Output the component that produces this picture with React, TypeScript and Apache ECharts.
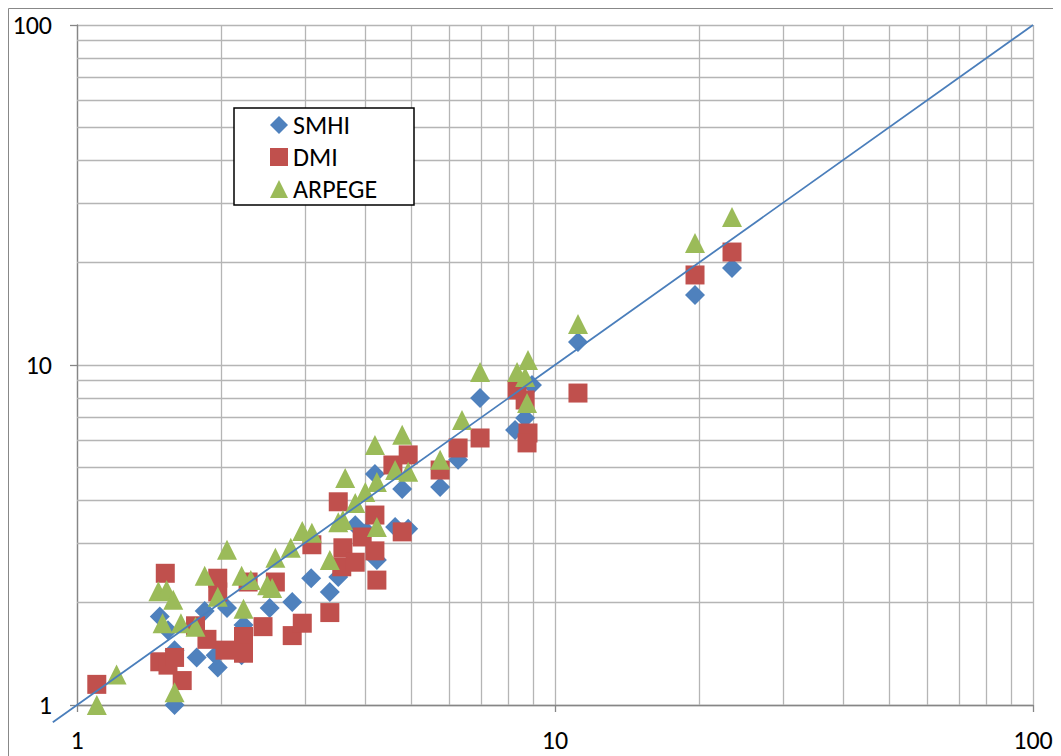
import React, { useEffect, useRef } from "react";
import * as echarts from "echarts";

// ---- data (x, y) ----
const seriesNames = ["SMHI", "DMI", "ARPEGE"];

const smhi: number[][] = [
  [1.6, 1.0], [1.49, 1.82], [1.55, 1.66], [1.6, 1.45], [1.78, 1.38], [1.85, 1.89],
  [1.97, 1.29], [1.95, 1.4], [2.06, 1.93], [2.23, 1.72], [2.21, 1.4], [2.53, 1.93],
  [2.82, 2.01], [3.09, 2.36], [3.38, 2.15], [3.52, 2.38], [3.82, 3.38], [4.04, 3.23],
  [4.24, 2.67], [4.2, 4.78], [4.63, 3.34], [4.79, 4.32], [4.93, 3.3], [5.75, 4.38],
  [6.27, 5.26], [6.97, 8.0], [8.25, 6.44], [8.66, 6.98], [8.95, 8.73], [11.17, 11.68],
  [19.63, 16.07], [23.46, 19.29],
];

const dmi: number[][] = [
  [1.1, 1.15], [1.53, 2.44], [1.49, 1.34], [1.55, 1.31], [1.6, 1.38], [1.66, 1.18],
  [1.97, 2.36], [1.97, 2.15], [1.77, 1.71], [1.87, 1.56], [2.04, 1.45], [2.23, 1.59],
  [2.23, 1.42], [2.28, 2.3], [2.45, 1.7], [2.6, 2.3], [2.82, 1.6], [2.96, 1.74],
  [3.1, 2.96], [3.38, 1.87], [3.58, 2.55], [3.6, 2.9], [3.52, 3.96], [3.82, 2.63],
  [3.95, 3.12], [4.2, 2.84], [4.2, 3.62], [4.24, 2.33], [4.58, 5.08], [4.93, 5.44],
  [4.79, 3.23], [5.75, 4.91], [6.27, 5.7], [6.97, 6.1], [8.33, 8.44], [8.66, 7.89],
  [8.78, 6.31], [8.74, 5.9], [11.17, 8.27], [19.63, 18.4], [23.46, 21.49],
];

const arpege: number[][] = [
  [1.1, 1.0], [1.21, 1.23], [1.48, 2.16], [1.54, 2.18], [1.59, 2.04], [1.51, 1.74],
  [1.65, 1.74], [1.6, 1.09], [2.06, 2.86], [1.85, 2.4], [1.97, 2.08], [1.77, 1.7],
  [2.21, 2.4], [2.31, 2.33], [2.23, 1.92], [2.5, 2.25], [2.56, 2.21], [2.6, 2.71],
  [2.8, 2.9], [2.96, 3.25], [3.1, 3.21], [3.38, 2.67], [3.52, 3.45], [3.6, 3.5],
  [3.64, 4.65], [3.82, 3.93], [4.01, 4.23], [4.2, 5.82], [4.24, 4.53], [4.24, 3.34],
  [4.63, 4.91], [4.79, 6.23], [4.93, 4.85], [5.75, 5.26], [6.39, 6.89], [6.97, 9.54],
  [8.33, 9.54], [8.78, 10.34], [8.66, 9.22], [8.74, 7.73], [11.17, 13.2], [19.63, 22.85],
  [23.46, 27.25],
];

// 1:1 reference line: from diagonalStart (below the axis minimum) to 100
const diagonalStart = 0.89;
const diagonalEnd = 100;

// axis range and minor gridline values
const axisMin = 1;
const axisMax = 100;
const minorGridValues = [2, 3, 4, 5, 6, 7, 8, 9, 20, 30, 40, 50, 60, 70, 80, 90];

const FONT = "Carlito, Calibri, 'Liberation Sans', sans-serif";

export default function App() {
  const ref = useRef<HTMLDivElement>(null);

  useEffect(() => {
    if (!ref.current) return;
    const chart = echarts.init(ref.current, undefined, { renderer: "svg" });

    const gridColor = "#b5b5b5";
    const axisColor = "#868686";

    const minorLines = [
      ...minorGridValues.map((v) => ({ coords: [[v, axisMin], [v, axisMax]] })),
      ...minorGridValues.map((v) => ({ coords: [[axisMin, v], [axisMax, v]] })),
    ];

    // fraction of the log span by which the 1:1 line extends below the axis minimum
    const extFrac =
      (Math.log10(axisMin) - Math.log10(diagonalStart)) /
      (Math.log10(diagonalEnd) - Math.log10(axisMin));

    const axisCommon = {
      type: "log" as const,
      logBase: 10,
      min: axisMin,
      max: axisMax,
      axisLine: { show: true, onZero: false, lineStyle: { color: axisColor, width: 1.3 } },
      axisTick: { show: true, length: 7, lineStyle: { color: axisColor, width: 1.3 } },
      splitLine: { show: true, lineStyle: { color: gridColor, width: 1.3 } },
      axisLabel: { color: "#000", fontSize: 26, fontFamily: FONT },
    };

    chart.setOption({
      animation: false,
      grid: { left: 69, top: 17, width: 956, height: 680, containLabel: false },
      xAxis: { ...axisCommon, axisLabel: { ...axisCommon.axisLabel, margin: 22 } },
      yAxis: { ...axisCommon, axisLabel: { ...axisCommon.axisLabel, margin: 25 } },
      legend: {
        orient: "vertical",
        left: 262,
        top: 104,
        padding: 0,
        itemWidth: 18,
        itemHeight: 18,
        itemGap: 6,
        textStyle: { fontSize: 26, lineHeight: 18, fontFamily: FONT, color: "#000" },
        data: [
          { name: seriesNames[0], icon: "diamond" },
          { name: seriesNames[1], icon: "rect" },
          { name: seriesNames[2], icon: "triangle" },
        ],
      },
      graphic: [
        {
          type: "rect",
          x: 0.5,
          y: 0.5,
          shape: { x: 0, y: 0, width: 1200, height: 900 },
          style: { fill: "none", stroke: "#888888", lineWidth: 1 },
          silent: true,
          z: -10,
        },
        {
          type: "rect",
          x: 226,
          y: 100,
          shape: { x: 0, y: 0, width: 180, height: 97 },
          style: { fill: "#ffffff", stroke: "#000000", lineWidth: 1.5 },
          silent: true,
          z: 4,
        },
      ],
      series: [
        {
          type: "lines",
          coordinateSystem: "cartesian2d",
          polyline: false,
          silent: true,
          z: 1,
          lineStyle: { color: gridColor, width: 1.3, opacity: 1 },
          data: minorLines,
        },
        {
          type: "scatter",
          name: seriesNames[0],
          data: smhi,
          symbol: "diamond",
          symbolSize: 20,
          clip: false,
          z: 3,
          itemStyle: { color: "#4F81BD", opacity: 1 },
        },
        {
          type: "scatter",
          name: seriesNames[1],
          data: dmi,
          symbol: "rect",
          symbolSize: 19,
          clip: false,
          z: 3,
          itemStyle: { color: "#C0504D", opacity: 1 },
        },
        {
          type: "scatter",
          name: seriesNames[2],
          data: arpege,
          symbol: "triangle",
          symbolSize: 20,
          clip: false,
          z: 3,
          itemStyle: { color: "#9BBB59", opacity: 1 },
        },
        {
          type: "custom",
          name: "1:1",
          silent: true,
          z: 5,
          clip: false,
          data: [[axisMin, axisMin, diagonalEnd, diagonalEnd]],
          renderItem: (params: any, api: any) => {
            const p1 = api.coord([api.value(0), api.value(1)]);
            const p2 = api.coord([api.value(2), api.value(3)]);
            const sx = p1[0] - (p2[0] - p1[0]) * extFrac;
            const sy = p1[1] - (p2[1] - p1[1]) * extFrac;
            return {
              type: "line",
              shape: { x1: sx, y1: sy, x2: p2[0], y2: p2[1] },
              style: { stroke: "#4A7EBB", lineWidth: 1.8 },
            };
          },
        },
      ],
    });

    return () => chart.dispose();
  }, []);

  return <div ref={ref} style={{ width: 1053, height: 748 }} />;
}
